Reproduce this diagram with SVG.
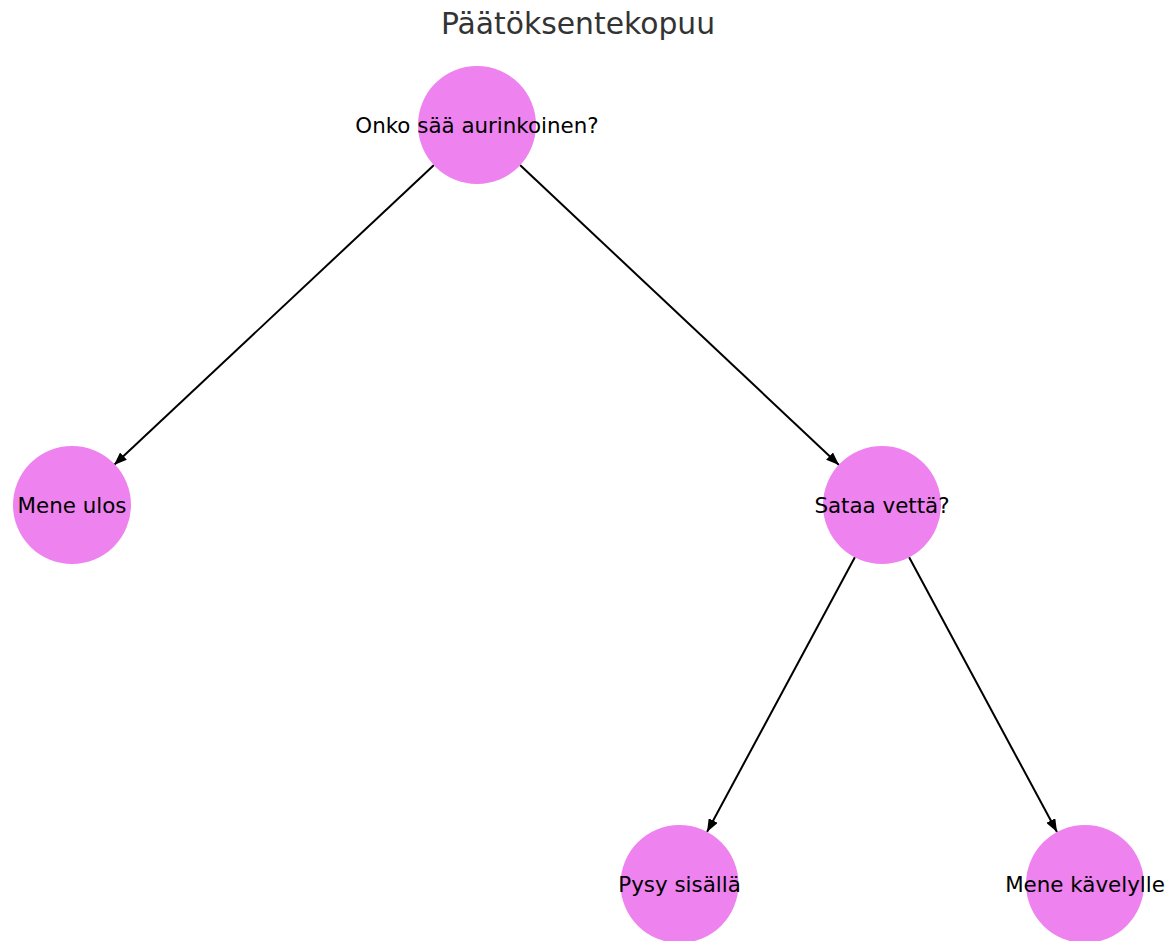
<svg xmlns="http://www.w3.org/2000/svg" width="1170" height="941" viewBox="0 0 1170 941">
  <style>
    .node circle { fill: #EE82EE; }
    .node text { font-family: "DejaVu Sans", sans-serif; font-size: 21.4px; fill: #000; text-anchor: middle; dominant-baseline: central; }
    .edge { stroke: #000; stroke-width: 2; fill: none; marker-end: url(#arrow); }
    .title { font-family: "DejaVu Sans", sans-serif; font-size: 29.8px; fill: #333; text-anchor: middle; }
  </style>
  <defs>
    <marker id="arrow" viewBox="0 0 13 10" refX="13" refY="5" markerWidth="13" markerHeight="10" markerUnits="userSpaceOnUse" orient="auto">
      <path d="M0,0 L13,5 L0,10 Z" fill="#000"/>
    </marker>
  </defs>
  <rect width="1170" height="941" fill="#fff"/>
  <text class="title" x="578" y="34">Päätöksentekopuu</text>
  <g id="connectors">
    <line class="edge" x1="434" y1="165" x2="114" y2="465"/>
    <line class="edge" x1="520" y1="165" x2="839" y2="465"/>
    <line class="edge" x1="855" y1="557" x2="707" y2="832"/>
    <line class="edge" x1="909" y1="557" x2="1057" y2="832"/>
  </g>
  <g id="node-sunny" class="node">
    <circle cx="477" cy="125" r="59"/>
    <text x="477" y="125">Onko sää aurinkoinen?</text>
  </g>
  <g id="node-go-out" class="node">
    <circle cx="72" cy="505" r="59"/>
    <text x="72" y="505">Mene ulos</text>
  </g>
  <g id="node-rain" class="node">
    <circle cx="882" cy="505" r="59"/>
    <text x="882" y="505">Sataa vettä?</text>
  </g>
  <g id="node-stay-in" class="node">
    <circle cx="679.5" cy="884" r="59"/>
    <text x="679.5" y="884">Pysy sisällä</text>
  </g>
  <g id="node-walk" class="node">
    <circle cx="1085" cy="884" r="59"/>
    <text x="1085" y="884">Mene kävelylle</text>
  </g>
</svg>
